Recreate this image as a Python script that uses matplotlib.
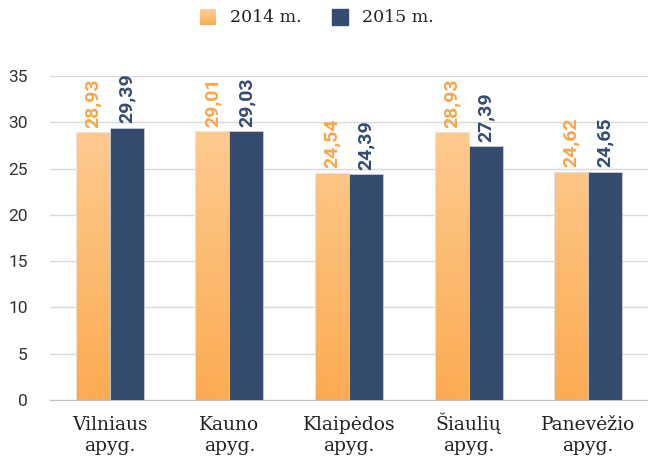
import matplotlib.pyplot as plt
import numpy as np
from matplotlib.colors import LinearSegmentedColormap
from matplotlib.patches import Rectangle

categories = ["Vilniaus\napyg.", "Kauno\napyg.", "Klaipėdos\napyg.", "Šiaulių\napyg.", "Panevėžio\napyg."]
values_2014 = [28.93, 29.01, 24.54, 28.93, 24.62]
values_2015 = [29.39, 29.03, 24.39, 27.39, 24.65]
labels = ["2014 m.", "2015 m."]

orange_top = "#FED19C"
orange_bottom = "#FCAB52"
orange_text = "#F9A54A"
navy = "#364B70"

serif = ["DejaVu Serif"]
sans = ["Roboto", "DejaVu Sans"]

fig = plt.figure(figsize=(6.48, 4.61), dpi=100)
ax = fig.add_axes([50 / 648, 1 - 400 / 461, 598 / 648, 324 / 461])

x = np.arange(len(categories))
w = 0.285

# oranžiniai stulpeliai su gradientu
grad = LinearSegmentedColormap.from_list("g", [orange_bottom, orange_top])
bars1 = ax.bar(x - w / 2, values_2014, w, color="none", edgecolor="#E8E8E8", linewidth=0.6, zorder=3)
for b in bars1:
    x0, y0 = b.get_x(), b.get_y()
    bw, bh = b.get_width(), b.get_height()
    img = ax.imshow(np.linspace(0, 1, 256).reshape(-1, 1), cmap=grad, aspect="auto",
                    origin="lower", extent=[x0, x0 + bw, 0, 35], zorder=2)
    img.set_clip_path(Rectangle((x0, y0), bw, bh, transform=ax.transData))

bars2 = ax.bar(x + w / 2, values_2015, w, color=navy, edgecolor="#C8CCD4", linewidth=0.6, zorder=3)

for xi, v in zip(x, values_2014):
    ax.text(xi - w / 2, v + 0.5, f"{v:.2f}".replace(".", ","), rotation=90, ha="center", va="bottom",
            color=orange_text, fontsize=14, fontweight="bold", family=sans)
for xi, v in zip(x, values_2015):
    ax.text(xi + w / 2, v + 0.5, f"{v:.2f}".replace(".", ","), rotation=90, ha="center", va="bottom",
            color=navy, fontsize=14, fontweight="bold", family=sans)

ax.set_xlim(-0.5, len(categories) - 0.5)
ax.set_ylim(0, 35)
ax.set_yticks(range(0, 36, 5))
ax.yaxis.grid(True, color="#D9D9D9", linewidth=1)
ax.set_axisbelow(True)
for s in ["top", "right", "left"]:
    ax.spines[s].set_visible(False)
ax.spines["bottom"].set_color("#BFBFBF")
ax.tick_params(axis="both", length=0)
ax.tick_params(axis="y", pad=16, labelsize=12.5, labelcolor="#333333")
for t in ax.get_yticklabels():
    t.set_family(sans)

# kategorijų pavadinimai lygiuojami pagal paskutinės eilutės bazinę liniją
ax.set_xticks(x)
ax.set_xticklabels([])
for xi, cat in zip(x, categories):
    ax.text(xi, -0.158, cat, transform=ax.get_xaxis_transform(), ha="center", va="baseline",
            family=serif, fontsize=13.5, color="#222222", linespacing=1.25, multialignment="center")

# legenda
lx = [200 / 648, 332 / 648]
for i, (px, lab) in enumerate(zip(lx, labels)):
    if i == 0:
        lax = fig.add_axes([px, 1 - 25 / 461, 16 / 648, 16 / 461])
        lax.imshow(np.linspace(0, 1, 64).reshape(-1, 1), cmap=grad, aspect="auto", origin="lower")
        lax.axis("off")
    else:
        fig.patches.append(Rectangle((px, 1 - 25 / 461), 16 / 648, 16 / 461, color=navy,
                                     transform=fig.transFigure))
    fig.text(px + 30 / 648, 1 - 17 / 461, lab, family=serif, fontsize=12.5, color="#222222",
             va="center", ha="left")

fig.savefig("out.png", dpi=100)
